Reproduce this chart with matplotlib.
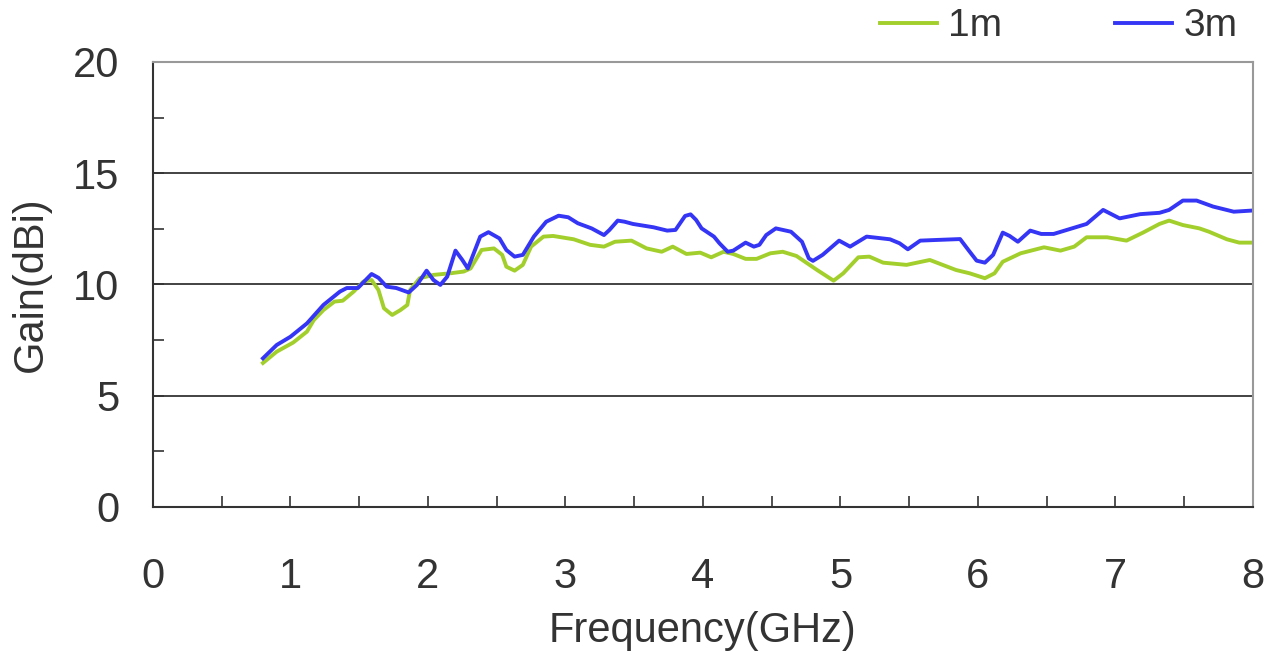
import matplotlib.pyplot as plt
from matplotlib.ticker import MultipleLocator

plt.rcParams['font.family'] = ['Liberation Sans', 'DejaVu Sans']

# Data
freq_3m = [0.80, 0.90, 1.00, 1.12, 1.24, 1.36, 1.41, 1.49, 1.59, 1.64, 1.70, 1.77, 1.86,
           1.92, 1.99, 2.04, 2.09, 2.14, 2.20, 2.25, 2.29, 2.38, 2.44, 2.52, 2.57, 2.63,
           2.69, 2.77, 2.86, 2.95, 3.02, 3.09, 3.19, 3.28, 3.32, 3.38, 3.43, 3.49, 3.64,
           3.74, 3.80, 3.87, 3.91, 3.95, 3.99, 4.08, 4.12, 4.18, 4.22, 4.31, 4.37, 4.41,
           4.46, 4.53, 4.64, 4.72, 4.77, 4.80, 4.87, 4.99, 5.07, 5.19, 5.36, 5.43, 5.49,
           5.58, 5.70, 5.87, 5.93, 5.99, 6.05, 6.11, 6.18, 6.23, 6.29, 6.38, 6.46, 6.55,
           6.79, 6.91, 7.03, 7.18, 7.32, 7.39, 7.49, 7.59, 7.71, 7.86, 7.99]
gain_3m = [6.68, 7.28, 7.65, 8.25, 9.08, 9.68, 9.84, 9.84, 10.47, 10.30, 9.90, 9.84, 9.64,
           9.98, 10.62, 10.20, 9.98, 10.35, 11.52, 11.10, 10.72, 12.15, 12.35, 12.07, 11.55, 11.25,
           11.33, 12.15, 12.82, 13.09, 13.02, 12.75, 12.52, 12.22, 12.45, 12.87, 12.82, 12.72, 12.57,
           12.42, 12.45, 13.08, 13.15, 12.90, 12.52, 12.15, 11.85, 11.47, 11.52, 11.88, 11.70, 11.78,
           12.22, 12.52, 12.37, 11.92, 11.17, 11.06, 11.33, 11.97, 11.70, 12.15, 12.03, 11.85, 11.58,
           11.97, 12.00, 12.04, 11.55, 11.07, 10.98, 11.33, 12.33, 12.18, 11.92, 12.42, 12.27, 12.27,
           12.72, 13.35, 12.97, 13.16, 13.22, 13.35, 13.77, 13.77, 13.50, 13.27, 13.32]

freq_1m = [0.80, 0.90, 1.02, 1.12, 1.17, 1.24, 1.32, 1.38, 1.46, 1.53, 1.59, 1.64, 1.68,
           1.74, 1.80, 1.85, 1.87, 1.94, 2.04, 2.16, 2.26, 2.31, 2.39, 2.48, 2.54, 2.57,
           2.63, 2.69, 2.75, 2.84, 2.91, 3.06, 3.18, 3.28, 3.36, 3.48, 3.59, 3.70, 3.78,
           3.88, 3.98, 4.06, 4.15, 4.22, 4.31, 4.39, 4.49, 4.58, 4.68, 4.83, 4.95, 5.02,
           5.13, 5.21, 5.31, 5.48, 5.65, 5.84, 5.94, 6.05, 6.12, 6.18, 6.31, 6.48, 6.60,
           6.70, 6.79, 6.94, 7.08, 7.20, 7.32, 7.39, 7.49, 7.61, 7.68, 7.81, 7.90, 7.99]
gain_1m = [6.47, 6.98, 7.39, 7.88, 8.40, 8.85, 9.23, 9.27, 9.68, 10.13, 10.20, 9.75, 8.93,
           8.63, 8.85, 9.08, 9.75, 10.28, 10.43, 10.50, 10.58, 10.72, 11.55, 11.62, 11.33, 10.80,
           10.62, 10.88, 11.70, 12.15, 12.18, 12.03, 11.78, 11.70, 11.92, 11.97, 11.62, 11.47, 11.70,
           11.37, 11.43, 11.22, 11.47, 11.37, 11.15, 11.15, 11.40, 11.47, 11.28, 10.65, 10.17, 10.50,
           11.22, 11.25, 10.98, 10.88, 11.10, 10.65, 10.50, 10.28, 10.50, 11.02, 11.40, 11.67, 11.52,
           11.70, 12.12, 12.12, 11.97, 12.33, 12.72, 12.87, 12.67, 12.52, 12.37, 12.03, 11.88, 11.88]

fig = plt.figure(figsize=(12.64, 6.59), dpi=100)
ax = fig.add_axes([0.121, 0.2307, 0.8703, 0.6753])

ax.plot(freq_1m, gain_1m, color='#a3cf2c', lw=2.8, label='1m', solid_joinstyle='round')
ax.plot(freq_3m, gain_3m, color='#3535f5', lw=2.8, label='3m', solid_joinstyle='round')

ax.set_xlim(0, 8)
ax.set_ylim(0, 20)
ax.xaxis.set_major_locator(MultipleLocator(1))
ax.xaxis.set_minor_locator(MultipleLocator(0.5))
ax.yaxis.set_major_locator(MultipleLocator(5))
ax.yaxis.set_minor_locator(MultipleLocator(2.5))

for y in [5, 10, 15]:
    ax.axhline(y, color='#222222', lw=1.2, zorder=1)

ax.tick_params(axis='both', which='both', direction='in', color='#333333', width=1.2, length=8)
ax.tick_params(axis='x', which='major', labelsize=30, pad=36, labelcolor='#333333')
ax.tick_params(axis='y', which='major', labelsize=30, pad=24, labelcolor='#333333')

ax.spines['left'].set_color('#333333')
ax.spines['bottom'].set_color('#333333')
ax.spines['left'].set_linewidth(1.5)
ax.spines['bottom'].set_linewidth(1.5)
ax.spines['top'].set_color('#999999')
ax.spines['right'].set_color('#999999')
ax.spines['top'].set_linewidth(1.5)
ax.spines['right'].set_linewidth(1.5)

ax.set_xlabel('Frequency(GHz)', fontsize=30, color='#333333', labelpad=10)
ax.set_ylabel('Gain(dBi)', fontsize=30, color='#333333', labelpad=16)

ax.legend(loc='lower right', bbox_to_anchor=(1.0, 1.005), ncol=2, frameon=False,
          fontsize=28, handlelength=1.45, handletextpad=0.3, columnspacing=2.9,
          borderaxespad=0.0, labelcolor='#333333')

fig.savefig('out.png', dpi=100, facecolor='white')
